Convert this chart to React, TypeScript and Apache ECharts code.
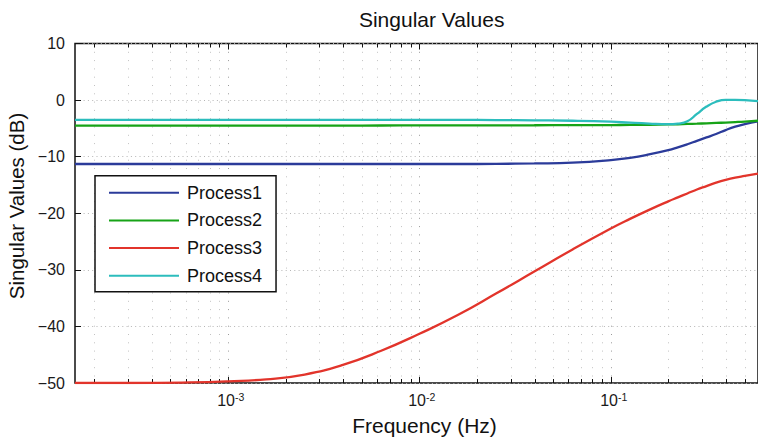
import React, { useEffect, useRef } from "react";
import * as echarts from "echarts";

// Frequency samples (Hz)
const frequencies = [
  1.585e-4, 3.162e-4, 6.31e-4, 1e-3, 1.585e-3, 2.512e-3, 3.981e-3, 6.31e-3,
  1e-2, 1.585e-2, 2.512e-2, 3.981e-2, 6.31e-2, 0.1, 0.1259, 0.1585, 0.1995,
  0.2239, 0.2512, 0.2818, 0.3162, 0.3548, 0.3981, 0.4467, 0.5012, 0.5875,
];

// Singular values (dB)
const process1 = [
  -11.3, -11.3, -11.3, -11.3, -11.3, -11.3, -11.3, -11.3, -11.3, -11.3, -11.27,
  -11.2, -11.05, -10.6, -10.2, -9.6, -8.85, -8.35, -7.8, -7.2, -6.6, -6.0, -5.3,
  -4.7, -4.25, -3.75,
];
const process2 = [
  -4.5, -4.5, -4.5, -4.5, -4.5, -4.5, -4.5, -4.49, -4.48, -4.47, -4.46, -4.45,
  -4.43, -4.41, -4.39, -4.36, -4.3, -4.27, -4.22, -4.17, -4.11, -4.04, -3.97,
  -3.89, -3.8, -3.65,
];
const process3 = [
  -50.0, -50.0, -49.9, -49.7, -49.35, -48.5, -46.8, -44.3, -41.3, -38.0, -34.2,
  -30.3, -26.4, -22.7, -21.0, -19.4, -17.9, -17.2, -16.5, -15.8, -15.2, -14.6,
  -14.1, -13.7, -13.4, -13.0,
];
const process4 = [
  -3.5, -3.5, -3.5, -3.5, -3.5, -3.5, -3.5, -3.5, -3.5, -3.5, -3.53, -3.58,
  -3.65, -3.82, -4.0, -4.15, -4.25, -4.15, -3.75, -2.45, -1.15, -0.3, 0.05, 0.05,
  0.0, -0.2,
];

const seriesNames = ["Process1", "Process2", "Process3", "Process4"];
const seriesValues = [process1, process2, process3, process4];
const seriesColors = ["#2b3b9a", "#17a317", "#e2342b", "#2cbdbd"];

// Axis ticks
const xMin = 1.585e-4;
const xMax = 0.5875;
const xMajorTicks = [1e-3, 1e-2, 1e-1];
const xMajorExponents = ["-3", "-2", "-1"];
const decades = [1e-4, 1e-3, 1e-2, 1e-1];
const minorMultipliers = [2, 3, 4, 5, 6, 7, 8, 9];
const yMin = -50;
const yMax = 10;
const yStep = 10;

const FONT = "'Liberation Sans', Arial, Helvetica, sans-serif";

export default function App() {
  const ref = useRef<HTMLDivElement>(null);

  useEffect(() => {
    if (!ref.current) return;
    const chart = echarts.init(ref.current, undefined, { renderer: "svg" });

    const xMinorTicks: number[] = [];
    decades.forEach((d) =>
      minorMultipliers.forEach((m) => {
        const v = d * m;
        if (v > xMin && v < xMax) xMinorTicks.push(v);
      })
    );
    const tickData = [
      ...xMajorTicks.map((v) => [v, 1]),
      ...xMinorTicks.map((v) => [v, 0]),
    ];

    const lineSeries = seriesNames.map((name, i) => ({
      name,
      type: "line",
      data: frequencies.map((f, j) => [f, seriesValues[i][j]]),
      symbol: "none",
      smooth: 0.5,
      z: 3,
      itemStyle: { color: seriesColors[i] },
      lineStyle: { color: seriesColors[i], width: 2.3 },
    }));

    const option: any = {
      animation: false,
      color: seriesColors,
      grid: {
        left: 75,
        top: 43.5,
        right: -2,
        bottom: 55,
        show: true,
        borderColor: "#111",
        borderWidth: 1.5,
        backgroundColor: "#fff",
      },
      xAxis: {
        type: "log",
        logBase: 10,
        min: xMin,
        max: xMax,
        axisLine: { show: false },
        axisTick: { show: false },
        axisLabel: { show: false },
        splitLine: { show: false },
      },
      yAxis: {
        type: "value",
        min: yMin,
        max: yMax,
        interval: yStep,
        axisLine: { show: false },
        axisTick: {
          show: true,
          inside: true,
          length: 6,
          lineStyle: { color: "#111", width: 1 },
        },
        axisLabel: {
          fontSize: 16,
          fontFamily: FONT,
          color: "#1a1a1a",
          margin: 10,
          formatter: (v: number) => (v < 0 ? "\u2212" + Math.abs(v) : String(v)),
        },
        splitLine: {
          show: true,
          lineStyle: { color: "#b5b5b5", width: 1, type: [1, 3.3] },
        },
      },
      legend: {
        data: seriesNames,
        orient: "vertical",
        left: 95,
        top: 175.7,
        icon: "rect",
        itemWidth: 70,
        itemHeight: 2,
        itemGap: 9.7,
        padding: [8, 14, 7, 14],
        backgroundColor: "#fff",
        borderColor: "#111",
        borderWidth: 1.5,
        borderRadius: 0,
        textStyle: {
          fontSize: 18,
          fontFamily: FONT,
          color: "#111",
          lineHeight: 18,
          padding: [0, 0, 0, 3],
        },
      },
      graphic: [
        {
          type: "text",
          x: 431.7,
          y: 19.5,
          style: {
            text: "Singular Values",
            fontSize: 21,
            fontFamily: FONT,
            fill: "#111",
            align: "center",
            verticalAlign: "middle",
          },
        },
        {
          type: "text",
          x: 424.5,
          y: 425.7,
          style: {
            text: "Frequency (Hz)",
            fontSize: 21,
            fontFamily: FONT,
            fill: "#111",
            align: "center",
            verticalAlign: "middle",
          },
        },
        {
          type: "text",
          x: 16,
          y: 206,
          rotation: Math.PI / 2,
          style: {
            text: "Singular Values (dB)",
            fontSize: 20.5,
            fontFamily: FONT,
            fill: "#111",
            align: "center",
            verticalAlign: "middle",
          },
        },
      ],
      series: [
        ...lineSeries,
        {
          type: "custom",
          coordinateSystem: "cartesian2d",
          data: tickData,
          encode: { x: 0, y: 1 },
          z: 1,
          silent: true,
          clip: false,
          renderItem: (params: any, api: any) => {
            const f = api.value(0);
            const major = api.value(1) === 1;
            const top = api.coord([f, yMax]);
            const bot = api.coord([f, yMin]);
            const x = Math.round(top[0]) + 0.5;
            const tl = major ? 6 : 4;
            const children: any[] = [
              {
                type: "line",
                shape: { x1: x, y1: top[1], x2: x, y2: bot[1] },
                style: {
                  stroke: major ? "#9a9a9a" : "#c2c2c2",
                  lineWidth: 1,
                  lineDash: [1, 7.3],
                },
              },
              {
                type: "line",
                shape: { x1: x, y1: top[1], x2: x, y2: top[1] + tl },
                style: { stroke: "#111", lineWidth: 1 },
              },
              {
                type: "line",
                shape: { x1: x, y1: bot[1], x2: x, y2: bot[1] - tl },
                style: { stroke: "#111", lineWidth: 1 },
              },
            ];
            if (major) {
              children.push(
                {
                  type: "text",
                  x: x + 6.5,
                  y: bot[1] + 17.5,
                  style: {
                    text: "10",
                    fontSize: 16,
                    fontFamily: FONT,
                    fill: "#1a1a1a",
                    align: "right",
                    verticalAlign: "middle",
                  },
                },
                {
                  type: "text",
                  x: x + 6.5,
                  y: bot[1] + 13.5,
                  style: {
                    text: xMajorExponents[params.dataIndex],
                    fontSize: 10.5,
                    fontFamily: FONT,
                    fill: "#1a1a1a",
                    align: "left",
                    verticalAlign: "middle",
                  },
                }
              );
            }
            return { type: "group", children };
          },
        },
      ],
    };

    chart.setOption(option);
    return () => chart.dispose();
  }, []);

  return (
    <div
      ref={ref}
      style={{ position: "absolute", left: 0, top: 0, width: 758, height: 438 }}
    />
  );
}
